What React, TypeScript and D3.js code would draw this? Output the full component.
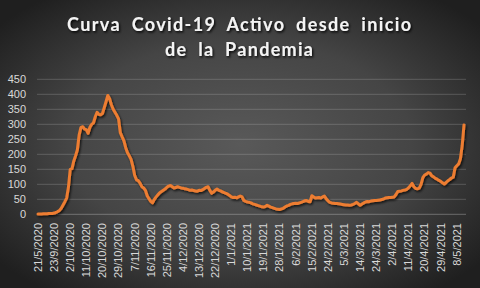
import React from "react";
import * as d3 from "d3";

const titleLines = ["Curva Covid-19 Activo desde inicio", "de la Pandemia"];

const yTicks = [0, 50, 100, 150, 200, 250, 300, 350, 400, 450];

const tickLabels = [
  "21/5/2020", "23/9/2020", "2/10/2020", "11/10/2020", "20/10/2020", "29/10/2020",
  "7/11/2020", "16/11/2020", "25/11/2020", "4/12/2020", "13/12/2020", "22/12/2020",
  "1/1/2021", "10/1/2021", "19/1/2021", "28/1/2021", "6/2/2021", "15/2/2021",
  "24/2/2021", "5/3/2021", "14/3/2021", "24/3/2021", "2/4/2021", "11/4/2021",
  "20/4/2021", "29/4/2021", "8/5/2021",
];
const tickEvery = 9;

const activos = [
  1, 1, 1, 2, 2, 2, 3, 3, 3, 4,
  6, 9, 13, 20, 31, 42, 54, 90, 150, 152,
  178, 195, 215, 265, 290, 292, 284, 282, 270, 290,
  300, 305, 325, 340, 333, 332, 336, 355, 375, 396,
  385, 365, 350, 340, 330, 318, 272, 258, 245, 222,
  205, 195, 183, 160, 130, 115, 112, 104, 92, 88,
  80, 62, 52, 43, 38, 50, 58, 65, 72, 76,
  80, 84, 90, 94, 96, 92, 88, 89, 92, 90,
  88, 87, 85, 84, 82, 80, 81, 79, 78, 77,
  80, 79, 82, 86, 90, 92, 80, 70, 74, 80,
  84, 80, 78, 75, 72, 70, 67, 63, 58, 56,
  57, 55, 58, 61, 58, 46, 43, 41, 40, 38,
  35, 33, 31, 29, 27, 25, 24, 26, 30, 27,
  24, 22, 20, 18, 17, 16, 18, 20, 24, 28,
  30, 33, 35, 36, 37, 36, 38, 40, 42, 45,
  46, 43, 42, 62, 58, 54, 55, 56, 54, 58,
  61, 52, 45, 40, 38, 37, 36, 36, 35, 34,
  33, 32, 31, 31, 30, 31, 33, 36, 40, 35,
  30, 34, 38, 41, 43, 42, 44, 45, 46, 46,
  47, 48, 49, 51, 54, 55, 56, 56, 57, 58,
  66, 76, 77, 78, 80, 81, 83, 88, 95, 103,
  92, 86, 85, 87, 100, 122, 131, 134, 139, 137,
  128, 125, 120, 117, 113, 110, 105, 101, 106, 112,
  116, 121, 124, 155, 162, 168, 185, 230, 298,
];

const W = 480;
const H = 288;
const plot = { left: 37, right: 466, top: 79.3, bottom: 214.3 };

export default function App() {
  const idx = activos.map((_, i) => i);
  const x = d3
    .scalePoint<number>()
    .domain(idx)
    .range([38, 464]);
  const y = d3.scaleLinear().domain([0, 450]).range([plot.bottom, plot.top]);
  const line = d3
    .line<number>()
    .x((_, i) => x(i) as number)
    .y((d) => y(d));
  const tickFont = "'Liberation Sans', Arial, sans-serif";

  return (
    <svg
      width={W}
      height={H}
      style={{ position: "absolute", left: 0, top: 0, display: "block" }}
    >
      <defs>
        <radialGradient id="bg" cx="50%" cy="50%" r="65%">
          <stop offset="0%" stopColor="#595959" />
          <stop offset="55%" stopColor="#454545" />
          <stop offset="100%" stopColor="#1f1f1f" />
        </radialGradient>
        <filter id="lineShadow" x="-5%" y="-5%" width="110%" height="115%">
          <feDropShadow dx="1.2" dy="1.6" stdDeviation="1.2" floodColor="#000" floodOpacity="0.75" />
        </filter>
        <filter id="textShadow" x="-5%" y="-20%" width="110%" height="150%">
          <feDropShadow dx="1.2" dy="1.5" stdDeviation="1" floodColor="#000" floodOpacity="0.9" />
        </filter>
      </defs>
      <rect x={0} y={0} width={W} height={H} fill="url(#bg)" />

      <g filter="url(#textShadow)" fill="#f4f4f4" fontFamily="Lato, 'Open Sans', sans-serif" fontWeight={700} fontSize={18} textAnchor="middle">
        <text x={239} y={31} textLength={344} lengthAdjust="spacing" style={{ wordSpacing: "5px" }}>
          {titleLines[0]}
        </text>
        <text x={239} y={56} textLength={148} lengthAdjust="spacing" style={{ wordSpacing: "5px" }}>
          {titleLines[1]}
        </text>
      </g>

      <g>
        {yTicks.map((t) => (
          <line
            key={t}
            x1={plot.left}
            x2={plot.right}
            y1={y(t)}
            y2={y(t)}
            stroke="#d9d9d9"
            strokeOpacity={t === 0 ? 0.35 : 0.22}
            strokeWidth={1}
          />
        ))}
      </g>

      <g fontFamily={tickFont} fontSize={11} fill="#d9d9d9">
        {yTicks.map((t) => (
          <text key={t} x={26} y={y(t)} dy="0.35em" textAnchor="end">
            {t}
          </text>
        ))}
        {tickLabels.map((lab, k) => {
          const xi = x(k * tickEvery) as number;
          return (
            <text
              key={lab}
              transform={`translate(${xi},223) rotate(-90)`}
              dy="0.35em"
              textAnchor="end"
            >
              {lab}
            </text>
          );
        })}
      </g>

      <path
        d={line(activos) || ""}
        fill="none"
        stroke="#ed7d31"
        strokeWidth={3}
        strokeLinejoin="round"
        strokeLinecap="round"
        filter="url(#lineShadow)"
      />
    </svg>
  );
}
